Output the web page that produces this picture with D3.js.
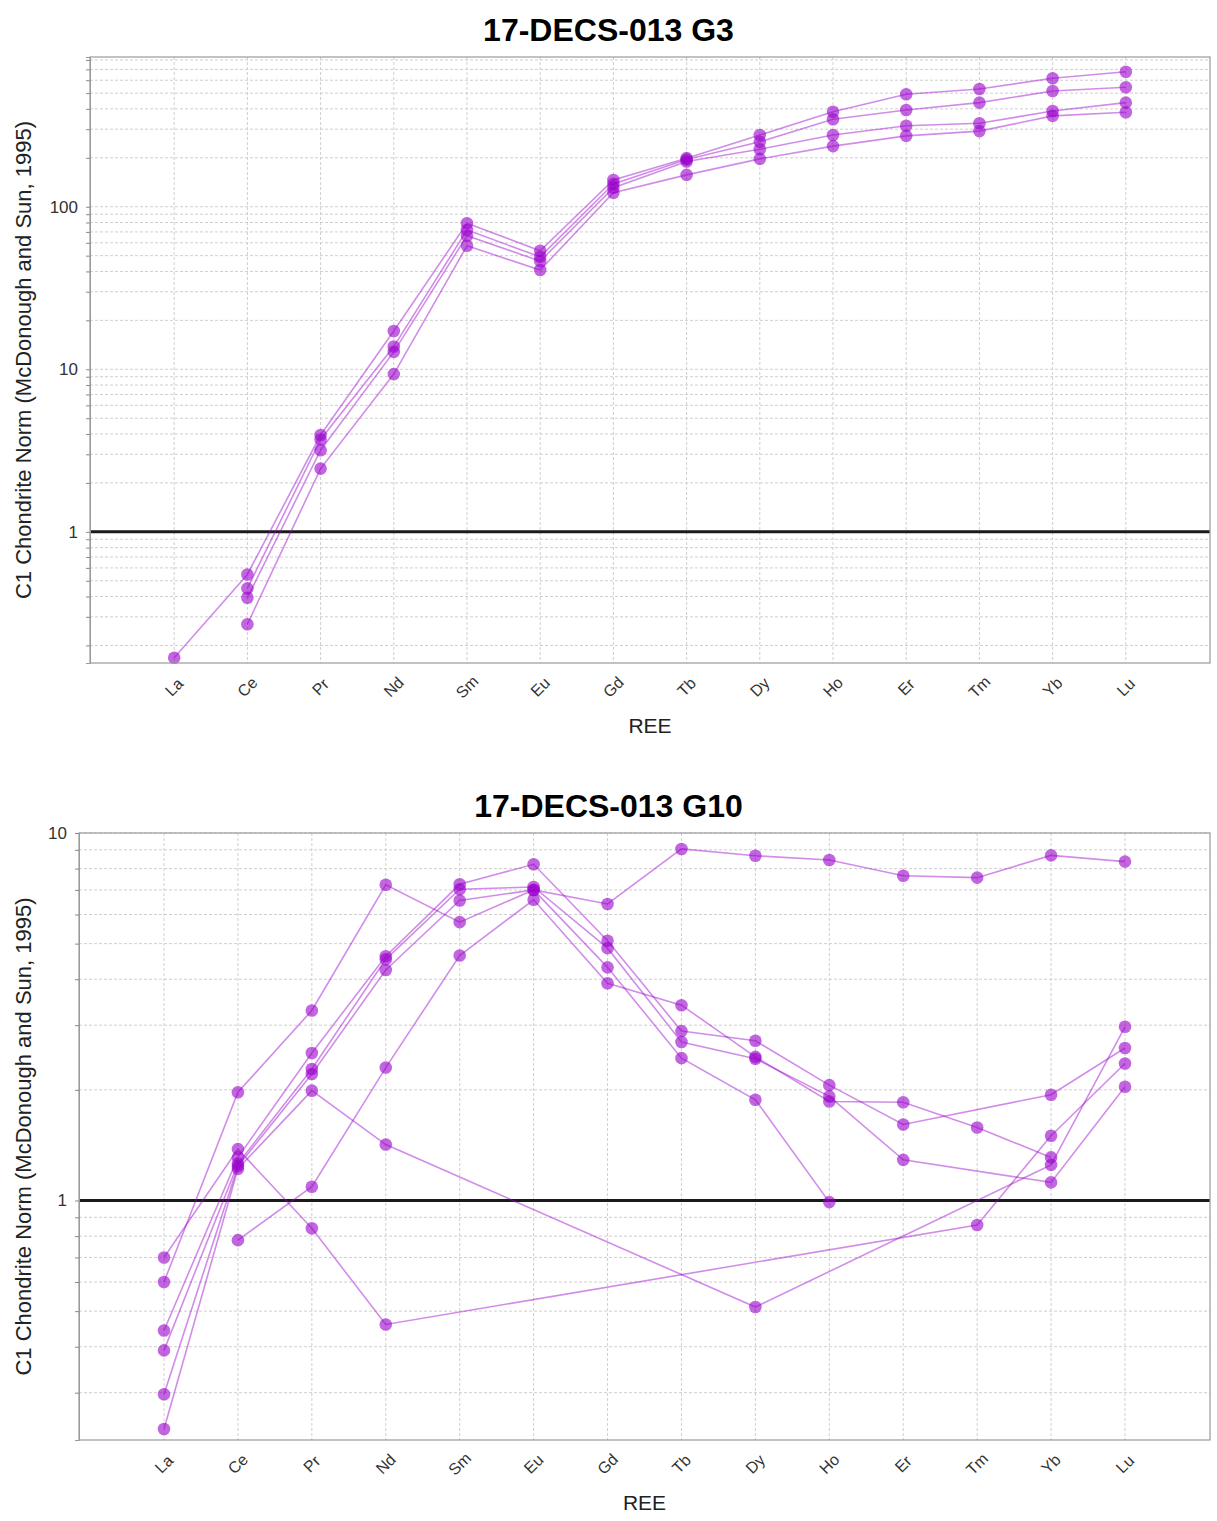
<!DOCTYPE html>
<html>
<head>
<meta charset="utf-8">
<script src="https://cdn.jsdelivr.net/npm/d3@7"></script>
<style>
  body { margin: 0; background: #fff; }
  text { font-family: "Liberation Sans", Arial, sans-serif; }
</style>
</head>
<body>
<svg id="chart" width="1217" height="1521"></svg>
<script>
// REE order on the x axis
const elements = ["La", "Ce", "Pr", "Nd", "Sm", "Eu", "Gd", "Tb", "Dy", "Ho", "Er", "Tm", "Yb", "Lu"]

// 17-DECS-013 G3 (chondrite normalised), null = not measured
const g3Spot1 = [0.168, 0.547, 3.94, 17.2, 79.1, 53.6, 146, 199, 276, 384, 492, 530, 617, 677]
const g3Spot2 = [null, 0.449, 3.70, 13.8, 71.9, 49.2, 138, 195, 251, 345, 394, 437, 515, 543]
const g3Spot3 = [null, 0.393, 3.18, 12.8, 66.3, 46.3, 131, 190, 226, 276, 315, 326, 388, 437]
const g3Spot4 = [null, 0.270, 2.45, 9.34, 57.5, 40.8, 122, 157, 197, 236, 273, 292, 362, 381]

// 17-DECS-013 G10
const g10Spot1 = [0.60, 1.97, 3.29, 7.23, 5.72, 7.00, 6.41, 9.05, 8.67, 8.44, 7.65, 7.56, 8.69, 8.36]
const g10Spot2 = [0.70, 1.38, 0.84, 0.46, null, null, null, null, null, null, null, 0.858, 1.50, 2.36]
const g10Spot3 = [null, 0.78, 1.09, 2.30, 4.64, 6.58, 3.90, 3.40, 2.46, 1.86, 1.85, 1.58, 1.31, null]
const g10Spot4 = [0.239, 1.22, 1.99, 1.42, null, null, null, null, 0.513, null, null, null, 1.25, 2.97]
const g10Spot5 = [0.443, 1.31, 2.52, 4.62, 7.25, 8.22, 5.09, 2.89, 2.72, 2.06, 1.61, null, 1.94, 2.60]
const g10Spot6 = [0.391, 1.26, 2.28, 4.53, 7.03, 7.13, 4.86, 2.70, 2.43, 1.92, 1.29, null, 1.12, 2.04]
const g10Spot7 = [0.297, 1.24, 2.21, 4.24, 6.55, 7.00, 4.31, 2.44, 1.88, 0.99, null, null, null, null]

const yTitle = "C1 Chondrite Norm (McDonough and Sun, 1995)"
const xTitle = "REE"
const purple = "#9900cc"

const svg = d3.select("#chart")
svg.append("rect").attr("width", 1217).attr("height", 1521).attr("fill", "#fff")

const drawPanel = cfg => {
  const x = d3.scalePoint().domain(elements).range([cfg.left, cfg.right]).padding(1.15)
  const y = d3.scaleLog().domain(cfg.yDomain).range([cfg.bottom, cfg.top])

  // 1..9 per decade inside the domain
  const ticks = []
  const e0 = Math.floor(Math.log10(cfg.yDomain[0]))
  const e1 = Math.ceil(Math.log10(cfg.yDomain[1]))
  for (let e = e0; e <= e1; e++) {
    for (let k = 1; k <= 9; k++) {
      const v = k * Math.pow(10, e)
      if (v >= cfg.yDomain[0] && v <= cfg.yDomain[1] * 1.0001) ticks.push(v)
    }
  }
  const isMajor = d => Math.abs(Math.log10(d) - Math.round(Math.log10(d))) < 1e-9

  const g = svg.append("g")

  // grid
  g.append("g").selectAll("line").data(ticks).join("line")
    .attr("x1", cfg.left).attr("x2", cfg.right)
    .attr("y1", d => y(d)).attr("y2", d => y(d))
    .attr("stroke", "#cfcfcf").attr("stroke-width", 1).attr("stroke-dasharray", "3,2")
  g.append("g").selectAll("line").data(elements).join("line")
    .attr("x1", d => x(d)).attr("x2", d => x(d))
    .attr("y1", cfg.top).attr("y2", cfg.bottom)
    .attr("stroke", "#cfcfcf").attr("stroke-width", 1).attr("stroke-dasharray", "3,2")

  // reference line at 1
  g.append("line")
    .attr("x1", cfg.left).attr("x2", cfg.right)
    .attr("y1", y(1)).attr("y2", y(1))
    .attr("stroke", "#1a1a1a").attr("stroke-width", 3)

  // series
  const line = d3.line().x(d => x(d.el)).y(d => y(d.v))
  cfg.series.forEach(s => {
    const pts = elements.map((el, i) => ({ el, v: s[i] })).filter(p => p.v != null)
    g.append("path").datum(pts)
      .attr("d", line)
      .attr("fill", "none")
      .attr("stroke", purple).attr("stroke-opacity", 0.45).attr("stroke-width", 1.6)
    g.append("g").selectAll("circle").data(pts).join("circle")
      .attr("cx", d => x(d.el)).attr("cy", d => y(d.v)).attr("r", 6.3)
      .attr("fill", purple).attr("fill-opacity", 0.6)
  })

  // frame
  g.append("rect")
    .attr("x", cfg.left).attr("y", cfg.top)
    .attr("width", cfg.right - cfg.left).attr("height", cfg.bottom - cfg.top)
    .attr("fill", "none").attr("stroke", "#9a9a9a").attr("stroke-width", 1.2)

  // y axis
  const yAxis = d3.axisLeft(y).tickValues(ticks).tickSize(4).tickPadding(8)
    .tickFormat(d => isMajor(d) ? d3.format("~g")(d) : "")
  const ya = g.append("g").attr("transform", `translate(${cfg.left},0)`).call(yAxis)
  ya.select(".domain").attr("stroke", "#9a9a9a")
  ya.selectAll(".tick line").attr("stroke", "#8a8a8a")
  ya.selectAll(".tick text").attr("font-size", 17).attr("fill", "#333")
    .style("font-family", "'Liberation Sans', Arial, sans-serif")

  // x labels, rotated 45 deg
  g.append("g").selectAll("text").data(elements).join("text")
    .attr("transform", d => `translate(${x(d)},${cfg.bottom + 24}) rotate(-45)`)
    .attr("text-anchor", "middle").attr("dominant-baseline", "central")
    .attr("font-size", 16).attr("fill", "#333")
    .text(d => d)

  // titles
  svg.append("text")
    .attr("x", 608.5).attr("y", cfg.titleY)
    .attr("text-anchor", "middle").attr("font-size", 32).attr("font-weight", "bold").attr("fill", "#000")
    .text(cfg.title)
  svg.append("text")
    .attr("x", (cfg.left + cfg.right) / 2).attr("y", cfg.bottom + 70)
    .attr("text-anchor", "middle").attr("font-size", 21).attr("fill", "#222")
    .text(xTitle)
  svg.append("text")
    .attr("transform", `translate(31,${(cfg.top + cfg.bottom) / 2}) rotate(-90)`)
    .attr("text-anchor", "middle").attr("font-size", 22).attr("fill", "#222")
    .text(yTitle)
}

drawPanel({
  title: "17-DECS-013 G3",
  titleY: 41,
  series: [g3Spot1, g3Spot2, g3Spot3, g3Spot4],
  yDomain: [0.156, 834],
  left: 90, right: 1210, top: 57, bottom: 663
})

drawPanel({
  title: "17-DECS-013 G10",
  titleY: 817,
  series: [g10Spot1, g10Spot2, g10Spot3, g10Spot4, g10Spot5, g10Spot6, g10Spot7],
  yDomain: [0.223, 10],
  left: 79, right: 1210, top: 833, bottom: 1440
})
</script>
</body>
</html>
